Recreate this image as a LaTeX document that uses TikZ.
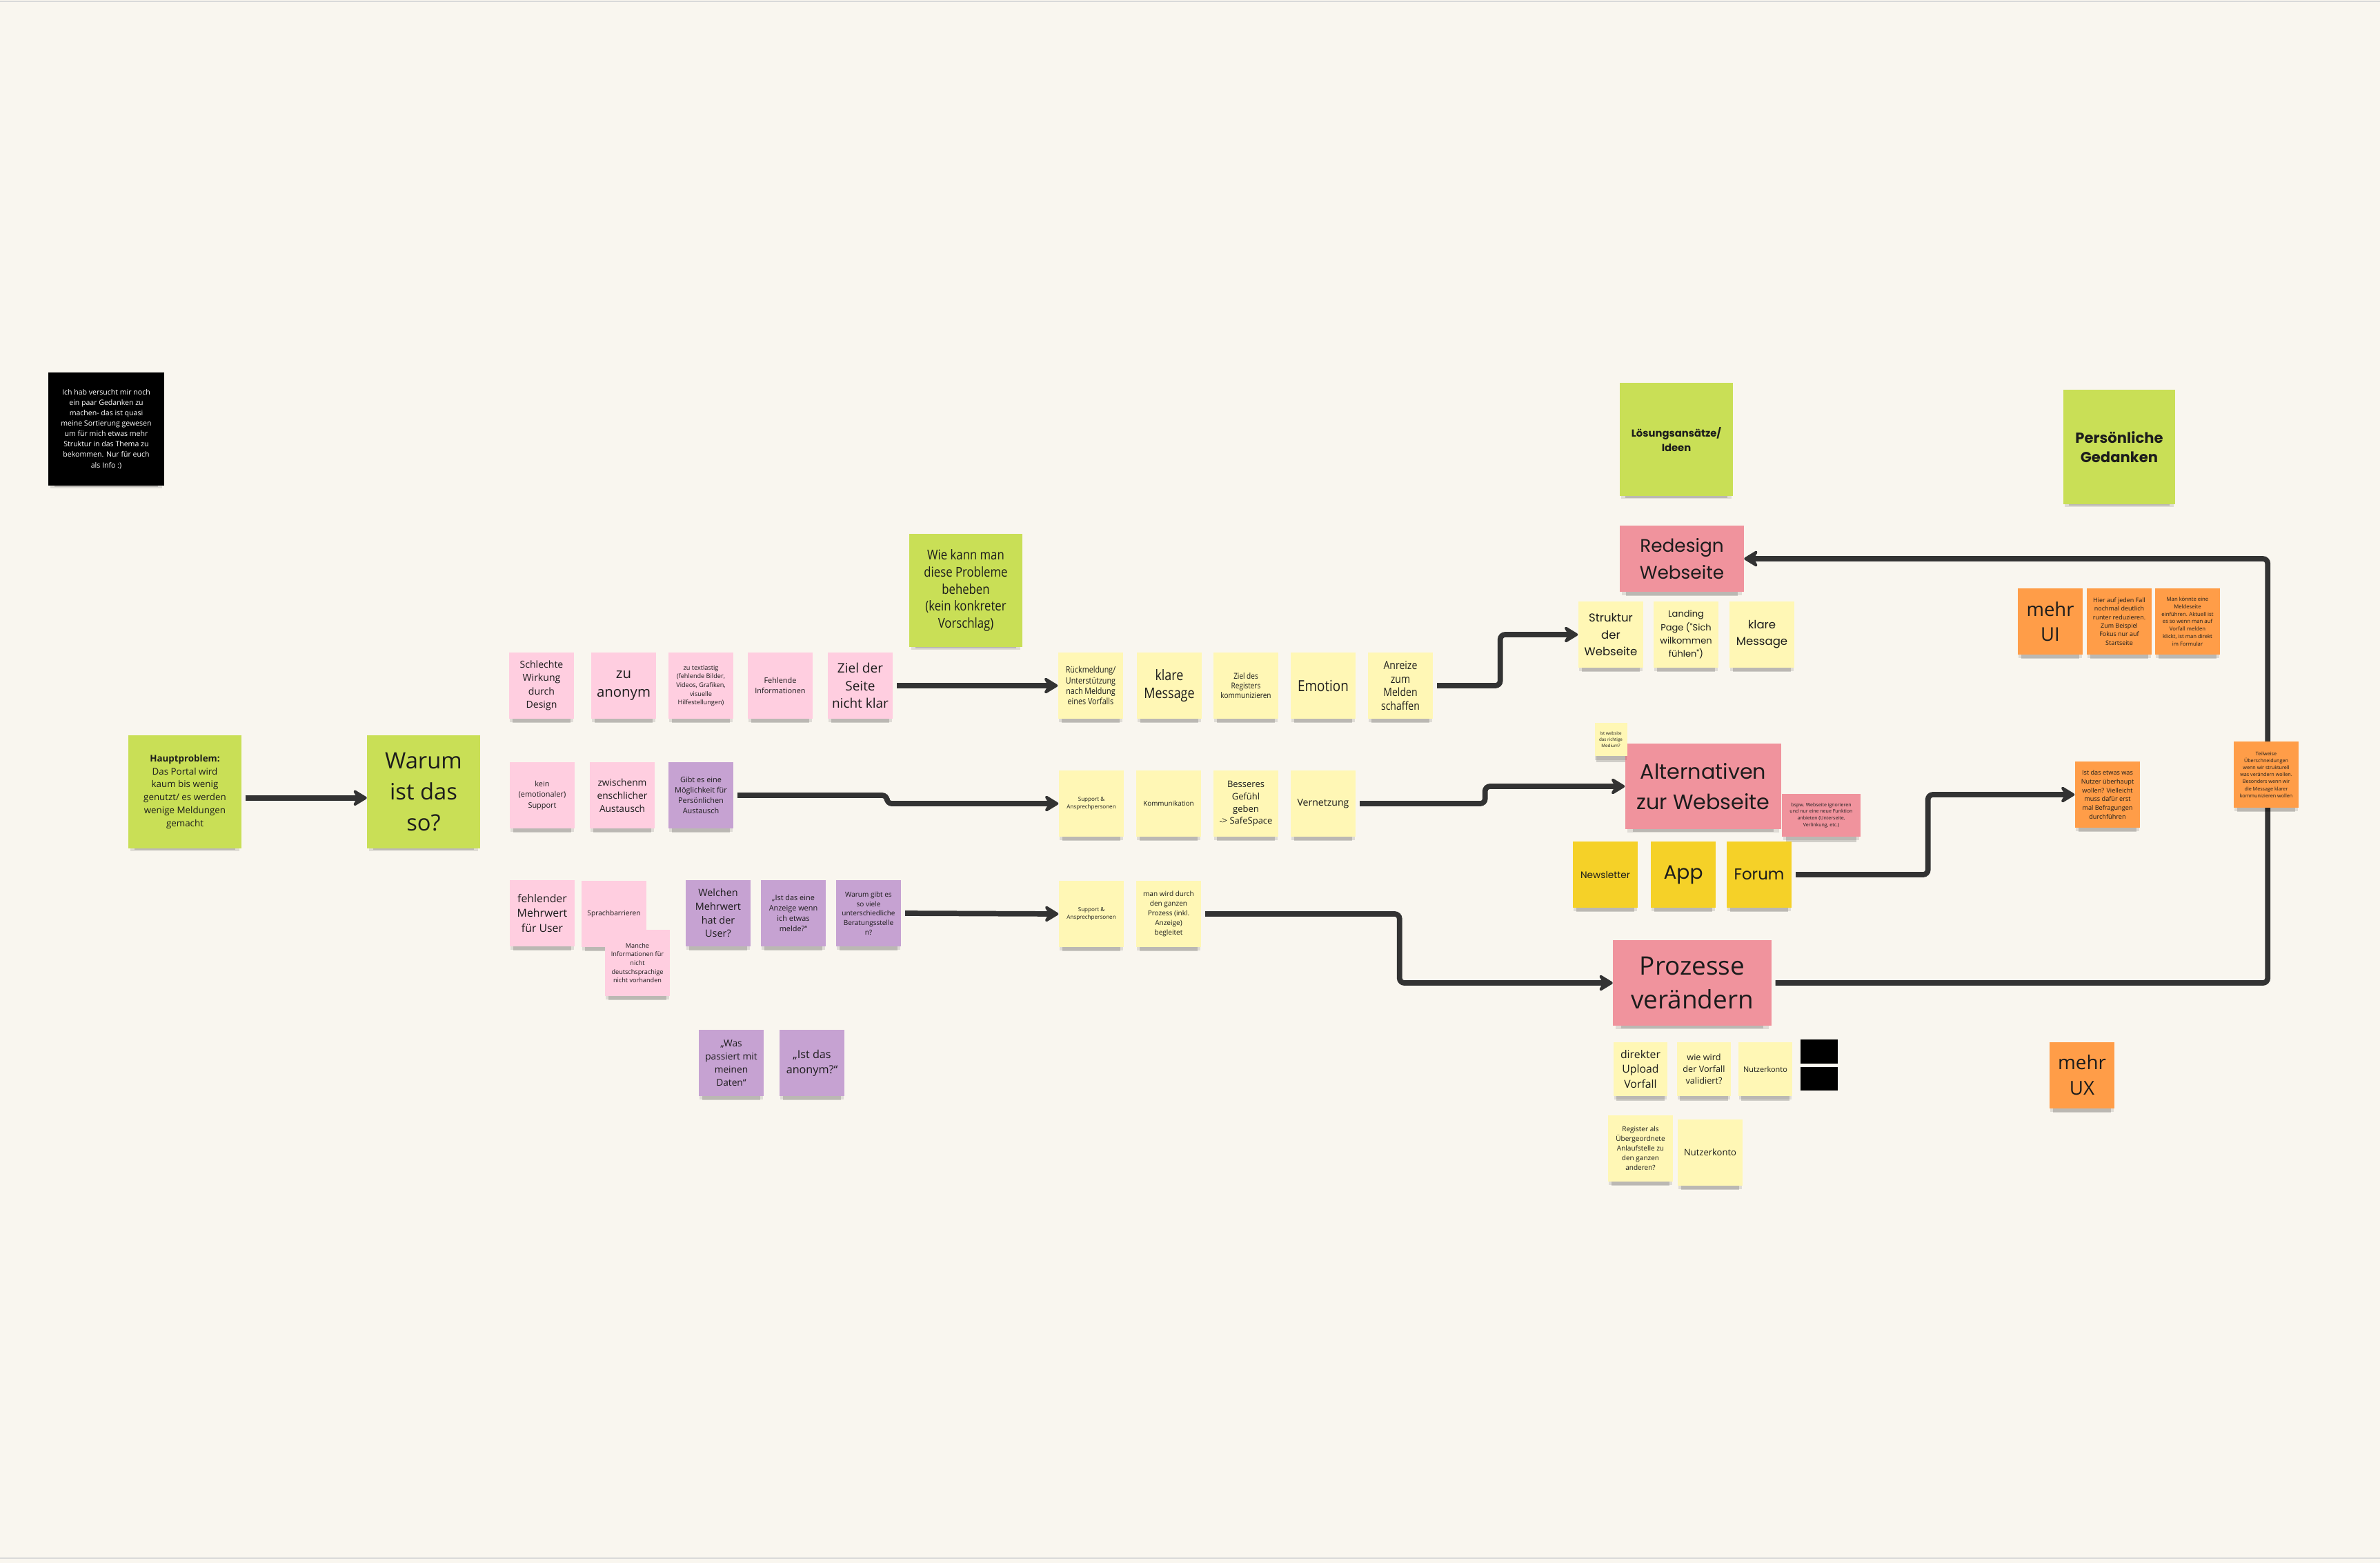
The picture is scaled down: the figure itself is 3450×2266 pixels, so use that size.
\documentclass[tikz,border=0pt]{standalone}
\usepackage{fontspec}
\setmainfont{Open Sans}
\newfontfamily\headfont{Poppins}
\newfontfamily\narrowfont[FakeStretch=0.85]{Open Sans}
\usetikzlibrary{arrows.meta, shadows}
\definecolor{paper}{HTML}{F9F6EF}
\definecolor{ink}{HTML}{1C1C1C}
\definecolor{wirecol}{HTML}{333333}
\definecolor{limegreen}{HTML}{C9DF56}
\definecolor{paleyellow}{HTML}{FFF7B5}
\definecolor{sunyellow}{HTML}{F5D128}
\definecolor{tangerine}{HTML}{FF9D48}
\definecolor{palepink}{HTML}{FFCEE0}
\definecolor{lilac}{HTML}{C6A2D2}
\definecolor{rosered}{HTML}{F0939D}
\newcommand{\setfs}[2]{\fontsize{#1pt}{#2pt}\selectfont}
\pgfdeclarelayer{paperlayer}
\pgfdeclarelayer{wirelayer}
\pgfsetlayers{paperlayer,wirelayer,main}

\begin{document}
\begin{tikzpicture}[x=0.01cm, y=-0.01cm,
    postit/.style  = {rectangle, inner sep=0pt, align=center, text=ink,
                      minimum width=0.94cm, minimum height=0.95cm,
                      drop shadow={shadow xshift=0pt, shadow yshift=-2pt,
                                   shadow scale=0.97, fill=black, opacity=0.10},
                      drop shadow={shadow xshift=0pt, shadow yshift=-3.5pt,
                                   shadow scale=0.90, fill=black, opacity=0.16}},
    pinkp/.style   = {postit, fill=palepink},
    lilacp/.style  = {postit, fill=lilac},
    yellp/.style   = {postit, fill=paleyellow},
    sunp/.style    = {postit, fill=sunyellow},
    greenp/.style  = {postit, fill=limegreen, minimum width=1.63cm, minimum height=1.63cm},
    orangep/.style = {postit, fill=tangerine},
    redp/.style    = {postit, fill=rosered},
    smallp/.style  = {minimum width=0.78cm, minimum height=0.77cm},
    wire/.style    = {-{Stealth[length=7pt, width=8.5pt, inset=2.5pt, round]},
                      line width=2.2pt, draw=wirecol, rounded corners=2pt, shorten <=1.5pt}
  ]

  \useasboundingbox (0,0) rectangle (3450,2266);
  \begin{pgfonlayer}{paperlayer}
    \fill[paper] (0,0) rectangle (3450,2266);
    \draw[black!15, line width=0.6pt] (0,2) -- (3450,2);
    \draw[black!15, line width=0.6pt] (0,2259) -- (3450,2259);
  \end{pgfonlayer}

  % ── Intro + main problem ─────────────────────────────────────────────────
  \node[postit, fill=black, text=white, minimum width=1.67cm, minimum height=1.63cm,
        font=\setfs{3}{4.3}] (intro) at (154,622)
        {Ich hab versucht mir noch\\ein paar Gedanken zu\\machen- das ist quasi\\meine Sortierung gewesen\\um für mich etwas mehr\\Struktur in das Thema zu\\bekommen. Nur für euch\\als Info :)};
  \node[greenp, font=\setfs{3.8}{5.4}] (haupt) at (268,1148)
        {\textbf{Hauptproblem:}\\Das Portal wird\\kaum bis wenig\\genutzt/ es werden\\wenige Meldungen\\gemacht};
  \node[greenp, font=\setfs{9.3}{12.8}] (warum) at (614,1148) {Warum\\ist das\\so?};

  % ── Causes, row 1 ────────────────────────────────────────────────────────
  \node[pinkp, font=\setfs{4}{5.5}]   (schlecht)   at (785,994)  {Schlechte\\Wirkung\\durch\\Design};
  \node[pinkp, font=\setfs{5.8}{7.8}] (anonym)     at (904,994)  {zu\\anonym};
  \node[pinkp, font=\setfs{2.6}{3.6}] (textlastig) at (1016,994) {zu textlastig\\(fehlende Bilder,\\Videos, Grafiken,\\visuelle\\Hilfestellungen)};
  \node[pinkp, font=\setfs{3.1}{4.2}] (fehlend)    at (1131,994) {Fehlende\\Informationen};
  \node[pinkp, font=\setfs{5.4}{7.2}] (zielseite)  at (1247,994) {Ziel der\\Seite\\nicht klar};

  % ── Causes, row 2 ────────────────────────────────────────────────────────
  \node[pinkp, font=\setfs{3.1}{4.4}]  (kein)     at (786,1153)  {kein\\(emotionaler)\\Support};
  \node[pinkp, font=\setfs{3.9}{5.4}]  (zwischen) at (902,1153)  {zwischenm\\enschlicher\\Austausch};
  \node[lilacp, font=\setfs{3.1}{4.3}] (gibtes)   at (1016,1153) {Gibt es eine\\Möglichkeit für\\Persönlichen\\Austausch};

  % ── Causes, row 3 ────────────────────────────────────────────────────────
  \node[pinkp, font=\setfs{4.5}{6.2}]   (fehlender)  at (786,1324)  {fehlender\\Mehrwert\\für User};
  \node[pinkp, font=\setfs{2.9}{4}]     (sprach)     at (890,1325)  {Sprachbarrieren};
  \node[pinkp, font=\setfs{2.6}{3.6}]   (manche)     at (924,1396)  {Manche\\Informationen für\\nicht\\deutschsprachige\\nicht vorhanden};
  \node[lilacp, font=\setfs{4.1}{5.6}]  (welchen)    at (1041,1324) {Welchen\\Mehrwert\\hat der\\User?};
  \node[lilacp, font=\setfs{3.1}{4.2}]  (istanzeige) at (1150,1324) {„Ist das eine\\Anzeige wenn\\ich etwas\\melde?“};
  \node[lilacp, font=\setfs{2.85}{3.9}] (warumviele) at (1259,1324) {Warum gibt es\\so viele\\unterschiedliche\\Beratungsstelle\\n?};

  \node[lilacp, font=\setfs{3.9}{5.4}] (waspassiert) at (1060,1541) {„Was\\passiert mit\\meinen\\Daten“};
  \node[lilacp, font=\setfs{4.6}{6.3}] (istanonym)   at (1177,1541) {„Ist das\\anonym?“};

  % ── How to fix it ────────────────────────────────────────────────────────
  \node[greenp, font=\narrowfont\setfs{5.6}{7}] (wiekann) at (1400,856)
        {Wie kann man\\diese Probleme\\beheben\\(kein konkreter\\Vorschlag)};

  \node[yellp, font=\narrowfont\setfs{3.6}{4.4}] (rueck)   at (1581,994) {Rückmeldung/\\Unterstützung\\nach Meldung\\eines Vorfalls};
  \node[yellp, font=\narrowfont\setfs{6}{7.2}]   (klare)   at (1695,994) {klare\\Message};
  \node[yellp, font=\narrowfont\setfs{3.35}{4}]  (zielreg) at (1806,994) {Ziel des\\Registers\\kommunizieren};
  \node[yellp, font=\narrowfont\setfs{6.3}{7.5}] (emotion) at (1918,994) {Emotion};
  \node[yellp, font=\narrowfont\setfs{4.7}{5.6}] (anreize) at (2030,994) {Anreize\\zum\\Melden\\schaffen};

  \node[yellp, font=\setfs{2.3}{3.3}] (supportA) at (1582,1165) {Support \&\\Ansprechpersonen};
  \node[yellp, font=\setfs{2.8}{4}]   (kommun)   at (1694,1165) {Kommunikation};
  \node[yellp, font=\setfs{3.7}{5.1}] (besser)   at (1806,1165) {Besseres\\Gefühl\\geben\\-> SafeSpace};
  \node[yellp, font=\setfs{4}{5}]     (vernetz)  at (1918,1165) {Vernetzung};

  \node[yellp, font=\setfs{2.3}{3.3}] (supportB) at (1582,1325) {Support \&\\Ansprechpersonen};
  \node[yellp, font=\setfs{2.85}{4}]  (manwird)  at (1694,1325) {man wird durch\\den ganzen\\Prozess (inkl.\\Anzeige)\\begleitet};

  % ── Solutions ────────────────────────────────────────────────────────────
  \node[greenp, minimum width=1.64cm, minimum height=1.64cm,
        font=\headfont\bfseries\setfs{4.2}{6}] (loesung) at (2430,637) {Lösungsansätze/\\Ideen};

  \node[redp, minimum width=1.79cm, minimum height=0.96cm,
        font=\headfont\setfs{7.5}{11}] (redesign) at (2438,810) {Redesign\\Webseite};
  \node[yellp, font=\headfont\setfs{4.7}{7}]   (struktur) at (2335,920) {Struktur\\der\\Webseite};
  \node[yellp, font=\headfont\setfs{3.7}{5.5}] (landing)  at (2444,920) {Landing\\Page ("Sich\\wilkommen\\fühlen")};
  \node[yellp, font=\headfont\setfs{4.7}{6.8}] (klareB)   at (2554,920) {klare\\Message};

  \node[redp, minimum width=2.26cm, minimum height=1.23cm,
        font=\headfont\setfs{8.6}{12.7}] (altern) at (2469,1140) {Alternativen\\zur Webseite};
  \node[yellp, minimum width=0.47cm, minimum height=0.48cm,
        font=\setfs{1.8}{2.5}] (istwebsite) at (2335,1072) {Ist website\\das richtige\\Medium?};
  \node[redp, minimum width=1.13cm, minimum height=0.61cm,
        font=\setfs{2}{2.8}] (bspw) at (2640,1182)
        {bspw. Webseite ignorieren\\und nur eine neue Funktion\\anbieten (Unterseite,\\Verlinkung, etc.)};
  \node[sunp, font=\headfont\setfs{3.9}{5}] (newsletter) at (2327,1268) {Newsletter};
  \node[sunp, font=\headfont\setfs{8}{10}]  (app)        at (2440,1268) {App};
  \node[sunp, font=\headfont\setfs{6.5}{8}] (forum)      at (2550,1268) {Forum};

  \node[redp, minimum width=2.29cm, minimum height=1.23cm,
        font=\setfs{10.5}{14}] (prozesse) at (2453,1425) {Prozesse\\verändern};
  \node[yellp, smallp, font=\setfs{4.5}{6}]   (direkt)  at (2378,1550) {direkter\\Upload\\Vorfall};
  \node[yellp, smallp, font=\setfs{3.6}{4.9}] (wiewird) at (2470,1550) {wie wird\\der Vorfall\\validiert?};
  \node[yellp, smallp, font=\setfs{3.1}{4}]   (nutzerA) at (2559,1550) {Nutzerkonto};
  \node[fill=black, minimum width=0.54cm, minimum height=0.35cm, inner sep=0pt] (blackA) at (2637,1524) {};
  \node[fill=black, minimum width=0.54cm, minimum height=0.34cm, inner sep=0pt] (blackB) at (2637,1564) {};
  \node[yellp, font=\setfs{2.85}{4}] (register) at (2378,1665) {Register als\\Übergeordnete\\Anlaufstelle zu\\den ganzen\\anderen?};
  \node[yellp, font=\setfs{3.7}{5}]  (nutzerB)  at (2479,1671) {Nutzerkonto};

  % ── Personal thoughts ────────────────────────────────────────────────────
  \node[greenp, minimum width=1.62cm, minimum height=1.65cm,
        font=\headfont\bfseries\setfs{6}{8}] (persoenlich) at (3072,648) {Persönliche\\Gedanken};
  \node[orangep, font=\setfs{7.8}{10.4}] (mehrui)     at (2972,901) {mehr\\UI};
  \node[orangep, font=\setfs{2.55}{3.5}] (hierauf)    at (3072,901) {Hier auf jeden Fall\\nochmal deutlich\\runter reduzieren.\\Zum Beispiel\\Fokus nur auf\\Startseite};
  \node[orangep, font=\setfs{2.2}{3.1}]  (mankoennte) at (3171,901) {Man könnte eine\\Meldeseite\\einführen. Aktuell ist\\es so wenn man auf\\Vorfall melden\\klickt, ist man direkt\\im Formular};
  \node[orangep, font=\setfs{2.05}{2.9}] (teilweise)  at (3285,1123) {Teilweise\\Überschneidungen\\wenn wir strukturell\\was verändern wollen.\\Besonders wenn wir\\die Message klarer\\kommunizieren wollen};
  \node[orangep, font=\setfs{2.6}{3.6}]  (istetwas)   at (3055,1152) {Ist das etwas was\\Nutzer überhaupt\\wollen? Vielleicht\\muss dafür erst\\mal Befragungen\\durchführen};
  \node[orangep, font=\setfs{7.9}{10.5}] (mehrux)     at (3018,1559) {mehr\\UX};

  % ── Connectors ───────────────────────────────────────────────────────────
  \begin{pgfonlayer}{wirelayer}
    \draw[wire] ([yshift=-2.5pt]haupt.east) -- ([yshift=-2.5pt]warum.west);
    \draw[wire] (zielseite.east) -- (rueck.west);
    \draw[wire] (gibtes.east) -- ++(222,0) |- (supportA.west);
    \draw[wire] (warumviele.east) -- (supportB.west);
    \draw[wire] (anreize.east) -- ++(97,0) |- (struktur.west);
    \draw[wire] (vernetz.east) -- ++(187,0) |- (altern.west);
    \draw[wire] (manwird.east) -- ++(287,0) |- (prozesse.west);
    \draw[wire] (forum.east) -- ++(197,0) |- (istetwas.west);
    \draw[wire] (prozesse.east) -- ++(719,0) |- (redesign.east);
  \end{pgfonlayer}
\end{tikzpicture}
\end{document}
